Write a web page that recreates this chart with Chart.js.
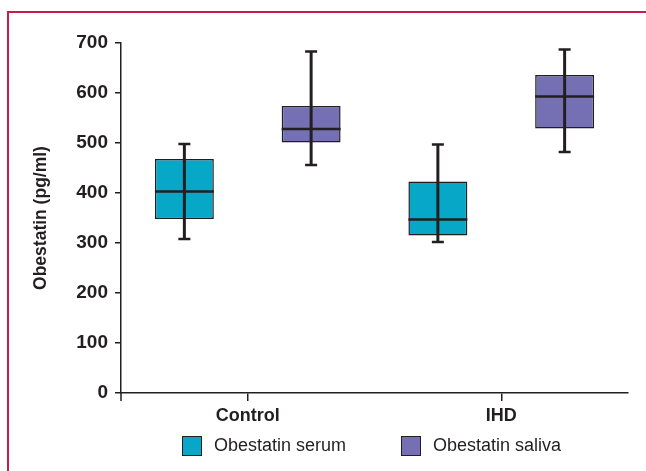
<!DOCTYPE html>
<html>
<head>
<meta charset="utf-8">
<script src="https://cdn.jsdelivr.net/npm/chart.js@4.4.1/dist/chart.umd.min.js"></script>
<style>
  html, body { margin: 0; padding: 0; background: #fff; }
  body { width: 646px; height: 471px; position: relative; overflow: hidden; font-family: "Liberation Sans", Arial, sans-serif; }
  #frame { position: absolute; left: 7px; top: 11px; right: -10px; bottom: -10px; border-top: 2px solid #cc1a4b; border-left: 2px solid #cc1a4b; }
  #c { position: absolute; left: 0; top: 0; }
  #legend { position: absolute; left: 182px; top: 435px; display: flex; align-items: center; }
  .item { display: flex; align-items: center; margin-right: 55px; }
  .sw { width: 18px; height: 18px; border: 1.5px solid #231f20; margin-right: 12px; }
  .lt { font-size: 18px; color: #231f20; line-height: 21px; }
</style>
</head>
<body>
<div id="frame"></div>
<canvas id="c" width="646" height="471"></canvas>
<div id="legend"></div>
<script>
// ---- data ----
const categories = ["Control", "IHD"];
const seriesNames = ["Obestatin serum", "Obestatin saliva"];
const serumLow    = [308, 302];
const serumQ1     = [348, 315];
const serumMedian = [403, 347];
const serumQ3     = [468, 423];
const serumHigh   = [498, 497];
const salivaLow    = [456, 482];
const salivaQ1     = [501, 529];
const salivaMedian = [528, 593];
const salivaQ3     = [574, 636];
const salivaHigh   = [683, 687];
const yTicks = [0, 100, 200, 300, 400, 500, 600, 700];

const ink = "#231f20";
const colors = ["#07a7c8", "#7570b3"];
const stats = [
  { low: serumLow, med: serumMedian, high: serumHigh },
  { low: salivaLow, med: salivaMedian, high: salivaHigh }
];

const whiskerPlugin = {
  id: "whiskers",
  afterDatasetsDraw(chart) {
    const ctx = chart.ctx;
    const y = chart.scales.y;
    ctx.save();
    ctx.strokeStyle = ink;
    chart.data.datasets.forEach((ds, di) => {
      const meta = chart.getDatasetMeta(di);
      meta.data.forEach((bar, i) => {
        const s = stats[di];
        const x = bar.x;
        const half = bar.width / 2;
        const yl = y.getPixelForValue(s.low[i]);
        const yh = y.getPixelForValue(s.high[i]);
        const ym = y.getPixelForValue(s.med[i]);
        ctx.lineWidth = 3;
        ctx.beginPath();
        ctx.moveTo(x, yl); ctx.lineTo(x, yh);
        ctx.stroke();
        ctx.lineWidth = 2.5;
        ctx.beginPath();
        ctx.moveTo(x - 6, yl); ctx.lineTo(x + 6, yl);
        ctx.moveTo(x - 6, yh); ctx.lineTo(x + 6, yh);
        ctx.moveTo(x - half, ym); ctx.lineTo(x + half, ym);
        ctx.stroke();
      });
    });
    // small extension of the y axis below the x axis
    const a = chart.chartArea;
    ctx.lineWidth = 1.5;
    ctx.beginPath();
    ctx.moveTo(a.left, a.bottom); ctx.lineTo(a.left, a.bottom + 8);
    ctx.stroke();
    ctx.restore();
  }
};

const font = "'Liberation Sans', Arial, sans-serif";

new Chart(document.getElementById("c"), {
  type: "bar",
  data: {
    labels: categories,
    datasets: [
      { label: seriesNames[0], data: serumQ1.map((v, i) => [v, serumQ3[i]]), backgroundColor: colors[0] },
      { label: seriesNames[1], data: salivaQ1.map((v, i) => [v, salivaQ3[i]]), backgroundColor: colors[1] }
    ].map(d => Object.assign(d, { borderColor: ink, borderWidth: 1.5, borderSkipped: false, categoryPercentage: 1.0, barPercentage: 0.465 }))
  },
  options: {
    responsive: false,
    animation: false,
    devicePixelRatio: 1,
    layout: { padding: { top: 43, right: 18, bottom: 0, left: 0 } },
    plugins: { legend: { display: false }, tooltip: { enabled: false } },
    scales: {
      x: {
        offset: true,
        grid: { offset: false, drawOnChartArea: false, tickLength: 8, color: ink, lineWidth: 1.5 },
        border: { color: ink, width: 1.5 },
        ticks: { color: ink, padding: 4, font: { family: font, size: 18, weight: "bold" } },
        afterFit: s => { s.height = 78; }
      },
      y: {
        min: 0, max: 700,
        afterBuildTicks: s => { s.ticks = yTicks.map(v => ({ value: v })); },
        grid: { drawOnChartArea: false, tickLength: 6, color: ink, lineWidth: 1.5 },
        border: { color: ink, width: 1.5 },
        ticks: { color: ink, padding: 7, font: { family: font, size: 19, weight: "bold" } },
        title: { display: true, text: "Obestatin (pg/ml)", color: ink, padding: { top: 31, bottom: 0 }, font: { family: font, size: 17.5, weight: "bold" } },
        afterFit: s => { s.width = 121; }
      }
    }
  },
  plugins: [whiskerPlugin]
});

// legend built from the series
const lg = document.getElementById("legend");
seriesNames.forEach((n, i) => {
  const it = document.createElement("div"); it.className = "item";
  const sw = document.createElement("div"); sw.className = "sw"; sw.style.background = colors[i];
  const t = document.createElement("span"); t.className = "lt"; t.textContent = n;
  it.appendChild(sw); it.appendChild(t); lg.appendChild(it);
});
</script>
</body>
</html>
